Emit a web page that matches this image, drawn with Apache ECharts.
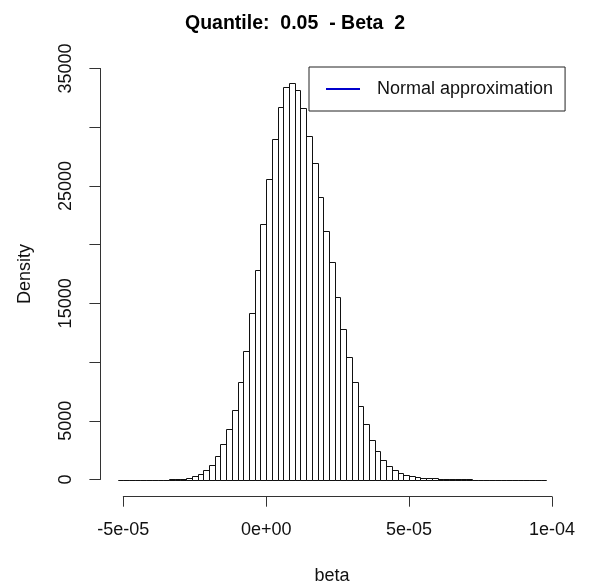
<!DOCTYPE html>
<html>
<head>
<meta charset="utf-8">
<script src="https://cdn.jsdelivr.net/npm/echarts@6/dist/echarts.min.js"></script>
<style>
html,body{margin:0;padding:0;background:#fff;}
#chart{width:590px;height:585px;}
</style>
</head>
<body>
<div id="chart"></div>
<script>
// Histogram bin edges (in units of 1e-6)
const breaksMicro = [-52,-50,-48,-46,-44,-42,-40,-38,-36,-34,-32,-30,-28,-26,-24,-22,-20,-18,-16,-14,-12,-10,-8,-6,-4,-2,0,2,4,6,8,10,12,14,16,18,20,22,24,26,28,30,32,34,36,38,40,42,44,46,48,50,52,54,56,58,60,62,64,66,68,70,72,74,76,78,80,82,84,86,88,90,92,94,96,98];
// Density of each bin
const densities = [0,0,0,0,0,0,0,0,0,
  25,50,85,153,290,468,795,1250,1960,3023,4275,5919,8303,10917,14205,17841,21733,
  25590,29023,31722,33400,33793,33196,31611,29253,26953,24085,21190,
  18548,15542,12842,10458,8303,6234,4752,3338,2453,1660,1160,830,579,425,310,225,153,130,110,
  80,65,50,40,30,20,
  0,0,0,0,0,0,0,0,0,0,0,0,0];
const xTickValues = [-5e-5, 0, 5e-5, 1e-4];
const xTickLabels = ['-5e-05', '0e+00', '5e-05', '1e-04'];
const yTickLabels = {0:'0', 5000:'5000', 10000:'', 15000:'15000', 20000:'', 25000:'25000', 30000:'', 35000:'35000'};
const titleText = 'Quantile:  0.05  - Beta  2';
const legendName = 'Normal approximation';

const histData = densities.map((d, i) => [breaksMicro[i] * 1e-6, breaksMicro[i + 1] * 1e-6, d]);

const FONT = "'Liberation Sans', Arial, sans-serif";
const chart = echarts.init(document.getElementById('chart'), null, {renderer: 'canvas'});

chart.setOption({
  animation: false,
  backgroundColor: '#ffffff',
  title: {
    text: titleText,
    left: 'center',
    top: 14,
    padding: 0,
    textStyle: {fontFamily: FONT, fontSize: 19.5, fontWeight: 'bold', color: '#000'}
  },
  legend: {
    show: true,
    left: 309,
    top: 67,
    orient: 'vertical',
    padding: [12, 12, 12, 17],
    borderColor: '#222',
    borderWidth: 1,
    borderRadius: 0,
    backgroundColor: '#fff',
    selectedMode: false,
    itemWidth: 34,
    itemHeight: 2,
    icon: 'rect',
    data: [legendName],
    textStyle: {fontFamily: FONT, fontSize: 18, color: '#111', padding: [0, 0, 0, 12], lineHeight: 20}
  },
  grid: [
    {left: 100.4, right: 26.6, top: 68.5, bottom: 105.5, containLabel: false, outerBoundsMode: 'none'},
    {left: 123.3, right: 38, top: 480, bottom: 88.3, containLabel: false, outerBoundsMode: 'none'}
  ],
  xAxis: [
    {
      type: 'value', gridIndex: 0, min: -58e-6, max: 104e-6,
      axisLine: {show: false, onZero: false}, axisTick: {show: false}, axisLabel: {show: false}, splitLine: {show: false},
      name: 'beta', nameLocation: 'middle', nameGap: 88,
      nameTextStyle: {fontFamily: FONT, fontSize: 18, color: '#111'}
    },
    {
      type: 'value', gridIndex: 1, min: -5e-5, max: 1e-4, interval: 5e-5, position: 'bottom',
      axisLine: {show: true, onZero: false, lineStyle: {color: '#333', width: 1}},
      axisTick: {show: true, inside: false, length: 10, lineStyle: {color: '#333', width: 1}},
      axisLabel: {
        show: true, margin: 24, fontFamily: FONT, fontSize: 18, color: '#111',
        showMinLabel: true, showMaxLabel: true,
        formatter: function (v) {
          for (let i = 0; i < xTickValues.length; i++) {
            if (Math.abs(v - xTickValues[i]) < 1e-9) return xTickLabels[i];
          }
          return '';
        }
      },
      splitLine: {show: false}
    }
  ],
  yAxis: [
    {
      type: 'value', gridIndex: 0, min: 0, max: 35000, interval: 5000, position: 'left',
      axisLine: {show: true, onZero: false, lineStyle: {color: '#333', width: 1}},
      axisTick: {show: true, inside: false, length: 11, lineStyle: {color: '#333', width: 1}},
      axisLabel: {
        show: true, rotate: 90, margin: 25, fontFamily: FONT, fontSize: 18, color: '#111',
        showMinLabel: true, showMaxLabel: true,
        formatter: function (v) { return (v in yTickLabels) ? yTickLabels[v] : ''; }
      },
      splitLine: {show: false},
      name: 'Density', nameLocation: 'middle', nameGap: 66, nameRotate: 90,
      nameTextStyle: {fontFamily: FONT, fontSize: 18, color: '#111'}
    },
    {
      type: 'value', gridIndex: 1, show: false, min: 0, max: 1
    }
  ],
  series: [
    {
      type: 'custom',
      name: 'histogram',
      xAxisIndex: 0, yAxisIndex: 0,
      clip: false,
      data: histData,
      encode: {x: [0, 1], y: 2},
      renderItem: function (params, api) {
        const x0 = api.value(0), x1 = api.value(1), h = api.value(2);
        const p0 = api.coord([x0, 0]);
        const p1 = api.coord([x1, h]);
        const left = Math.round(p0[0]) + 0.5;
        const right = Math.round(p1[0]) + 0.5;
        const bottom = Math.round(p0[1]) + 0.5;
        const top = Math.round(p1[1]) + 0.5;
        return {
          type: 'polyline',
          shape: {points: [[left, bottom], [left, top], [right, top], [right, bottom], [left, bottom]]},
          style: {fill: null, stroke: '#111', lineWidth: 1}
        };
      },
      silent: true
    },
    {
      type: 'line',
      name: legendName,
      xAxisIndex: 0, yAxisIndex: 0,
      data: [],
      showSymbol: false,
      itemStyle: {color: '#0000cc'},
      lineStyle: {color: '#0000cc', width: 2}
    }
  ]
});
</script>
</body>
</html>
